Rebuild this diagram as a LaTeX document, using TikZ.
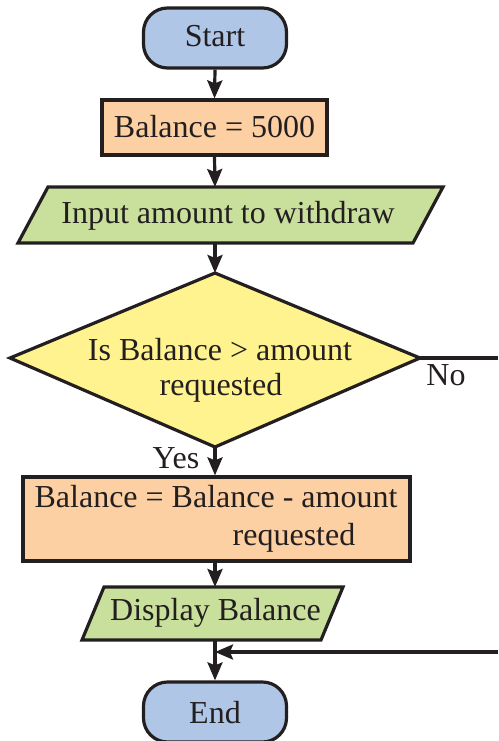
\documentclass[tikz,border=0pt]{standalone}
\usepackage{fontspec}
\setmainfont{Liberation Serif}
\usetikzlibrary{arrows.meta}
\definecolor{termblue}{RGB}{176,198,230}
\definecolor{procorange}{RGB}{252,208,162}
\definecolor{iogreen}{RGB}{201,224,156}
\definecolor{decyellow}{RGB}{255,243,143}
\definecolor{ink}{RGB}{35,31,32}
\tikzset{
  chartlabel/.style={font=\rmfamily\fontsize{32}{36}\selectfont, text=ink},
  shapeline/.style={draw=ink, line width=3.2pt},
  terminal/.style={shapeline, fill=termblue, rounded corners=24pt, minimum width=143pt, minimum height=60pt, inner sep=0pt},
  process/.style={shapeline, fill=procorange, inner sep=0pt},
  io/.style={shapeline, fill=iogreen, line join=miter},
  decision/.style={shapeline, fill=decyellow, line join=miter},
  lbl/.style={chartlabel, anchor=base, inner sep=0pt},
  flow/.style={draw=ink, line width=3.2pt, -{Stealth[length=18pt, width=15pt, inset=3pt]}},
  plain/.style={draw=ink, line width=3.2pt}
}
\begin{document}
\begin{tikzpicture}[x=1pt, y=-1pt]
\useasboundingbox (0,0) rectangle (498,741);

% terminals and process boxes
\node[terminal] (start) at (215,38) {};
\node[lbl] at (215,47) {Start};

\node[process, minimum width=225pt, minimum height=55pt] (init) at (214.5,127.5) {};
\node[lbl] at (214.5,137) {Balance = 5000};

% input parallelogram
\draw[io] (48,187) -- (443,187) -- (413,243) -- (18,243) -- cycle;
\coordinate (inputtop) at (215,187);
\coordinate (inputbot) at (215,243);
\node[lbl] at (228,223) {Input amount to withdraw};

% decision diamond
\draw[decision] (215,273) -- (420,358) -- (215,447) -- (10,358) -- cycle;
\coordinate (dectop) at (215,273);
\coordinate (decbot) at (215,447);
\coordinate (decright) at (420,358);
\node[lbl] at (220,360) {Is Balance > amount};
\node[lbl] at (221,395) {requested};

% update process
\node[process, minimum width=387pt, minimum height=84pt] (update) at (216.5,519) {};
\node[lbl] at (216,507) {Balance = Balance - amount};
\node[lbl] at (294,545) {requested};

% output parallelogram
\draw[io] (104,587) -- (343,587) -- (321,640) -- (82,640) -- cycle;
\coordinate (outtop) at (215,587);
\coordinate (outbot) at (215,640);
\node[lbl] at (215.5,620) {Display Balance};

\node[terminal] (end) at (215,712) {};
\node[lbl] at (215,723) {End};

% connectors
\draw[flow] (start.south) -- (init.north);
\draw[flow] (init.south) -- (inputtop);
\draw[flow] (inputbot) -- (dectop);
\draw[flow] (decbot) -- (update.north -| decbot);
\draw[flow] (update.south -| outtop) -- (outtop);
\draw[flow] (outbot) -- (end.north);

\coordinate (noend) at (498,358);
\draw[plain] (decright) -- (noend);
\node[lbl] at (446,385) {No};
\node[lbl] at (176,468) {Yes};

\coordinate (backin) at (498,652);
\coordinate (join) at (215,652);
\draw[flow] (backin) -- (join);
\end{tikzpicture}
\end{document}
